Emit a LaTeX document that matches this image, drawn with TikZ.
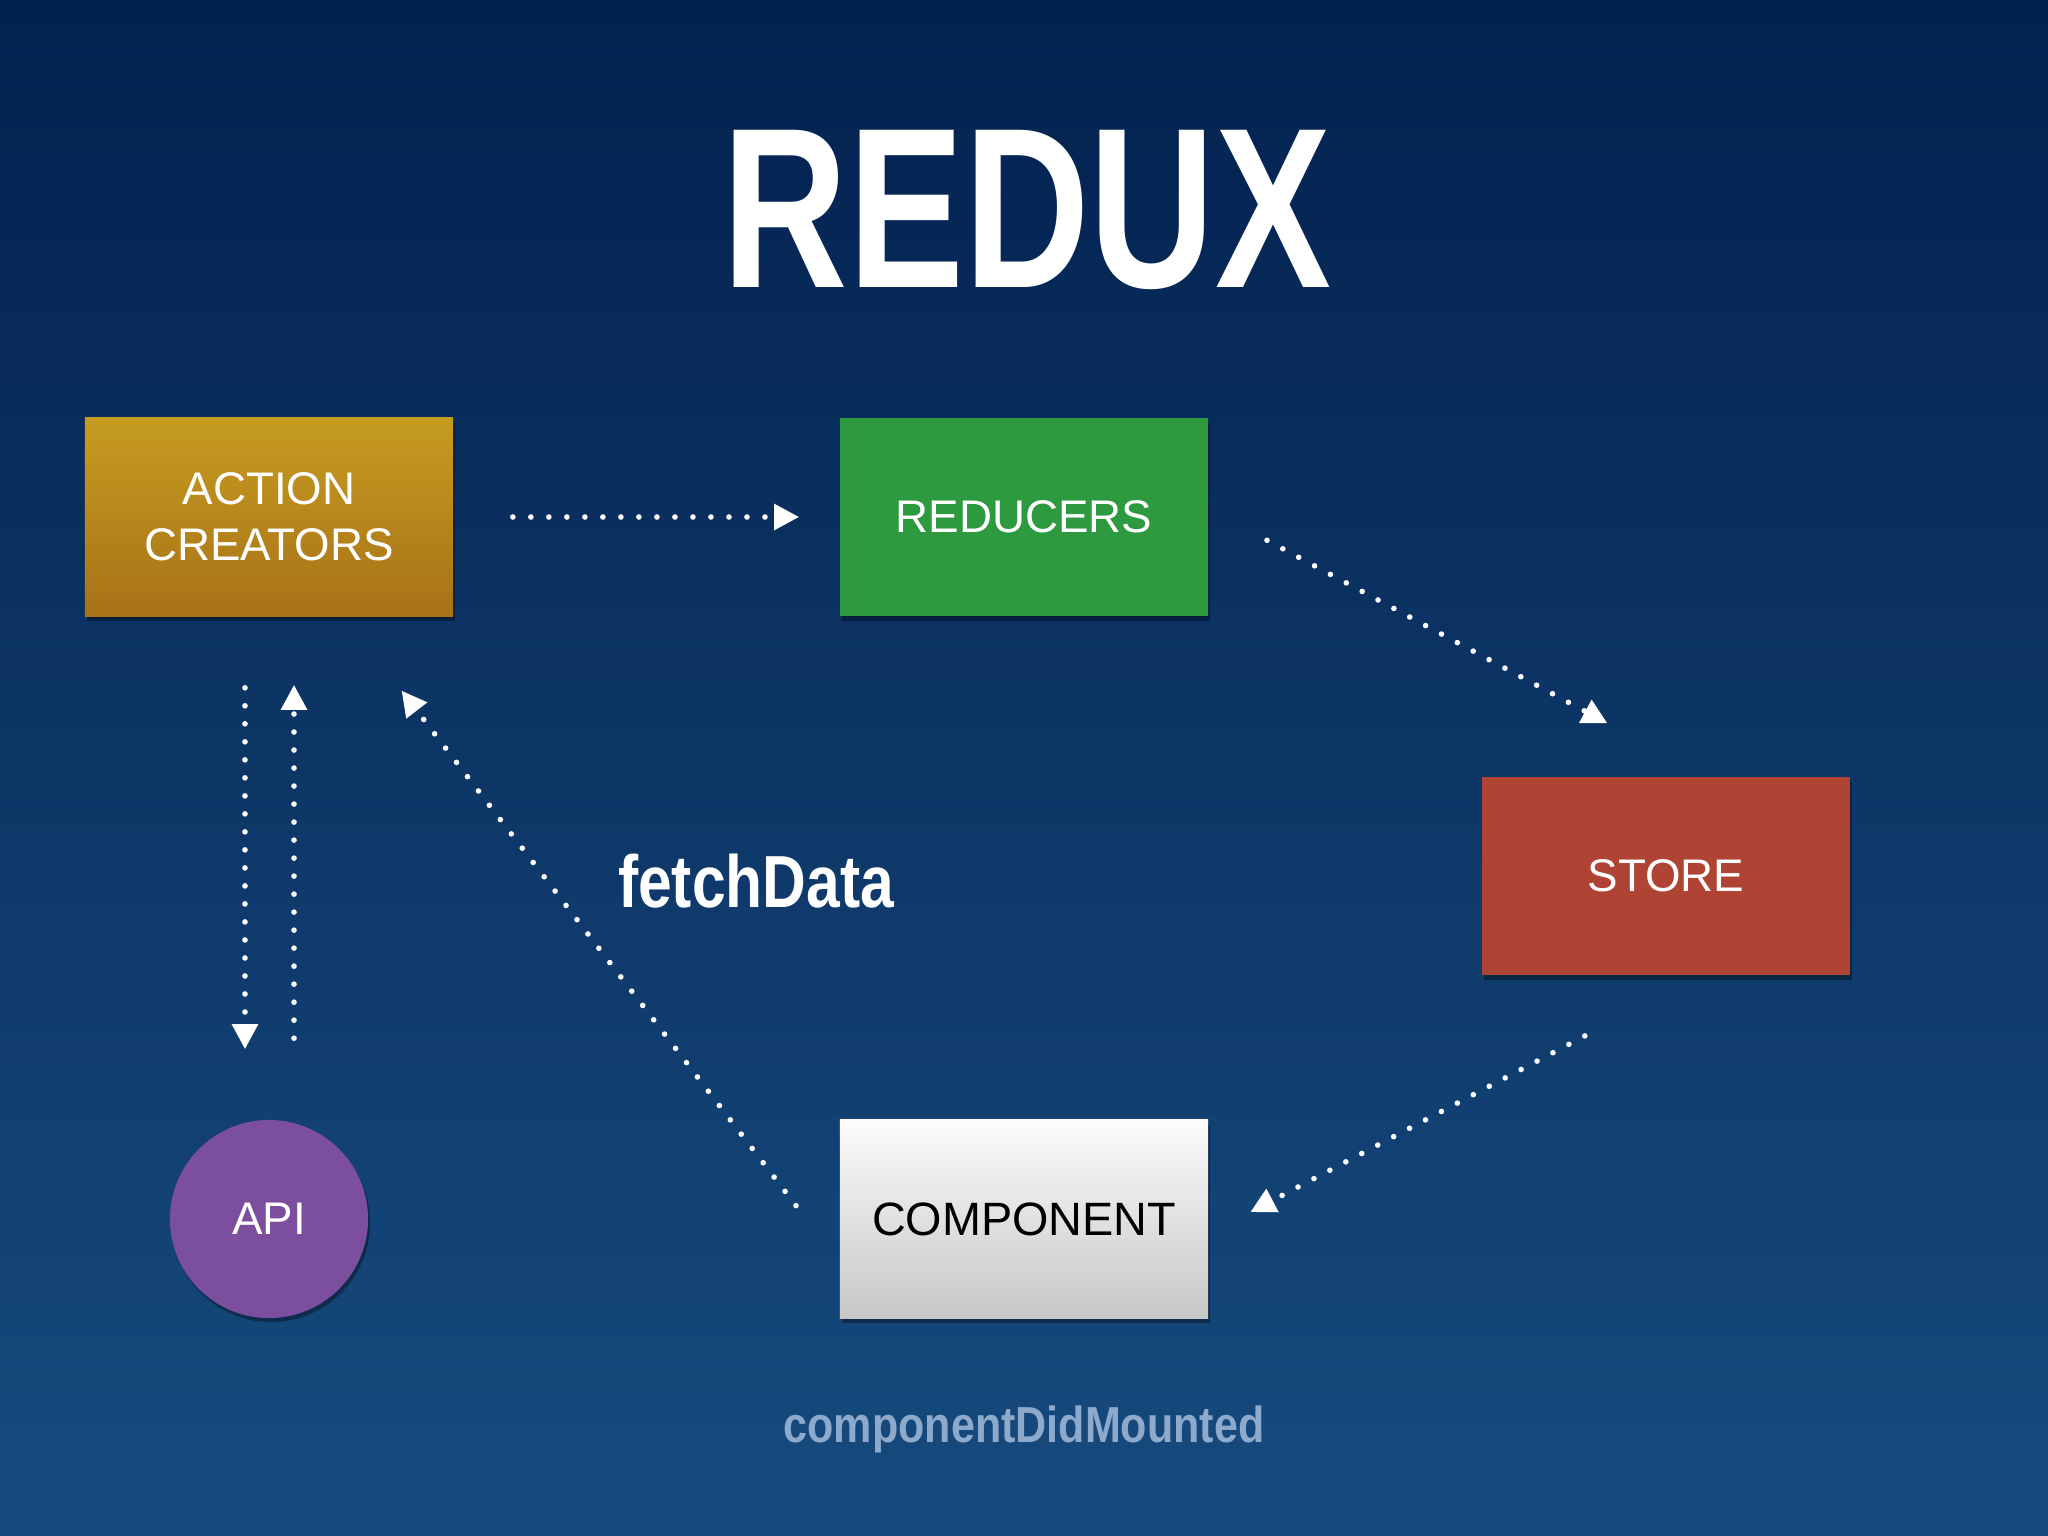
\documentclass[tikz,border=0pt]{standalone}
\usepackage{fontspec}
\setmainfont{Liberation Sans}
\usetikzlibrary{arrows.meta,shadows}

\definecolor{bgtop}{RGB}{3,33,79}
\definecolor{bgbot}{RGB}{23,75,126}
\definecolor{goldtop}{RGB}{198,156,32}
\definecolor{goldbot}{RGB}{168,114,24}
\definecolor{redgreen}{RGB}{46,154,64}
\definecolor{storered}{RGB}{176,68,52}
\definecolor{apipurple}{RGB}{123,78,158}
\definecolor{subblue}{RGB}{141,169,203}

\tikzset{
    box/.style={minimum width=3.68cm, minimum height=1.98cm, inner sep=0pt,
        align=center, text=white, font=\fontsize{13}{16}\selectfont,
        drop shadow={shadow xshift=0.02cm, shadow yshift=-0.05cm, fill=black, opacity=0.35}},
    flow/.style={white, line width=0.056cm, line cap=round,
        dash pattern=on 0pt off 0.18cm,
        -{Triangle[length=0.25cm, width=0.25cm]}}
}

\begin{document}
\begin{tikzpicture}[x=0.01cm, y=-0.01cm]
        \shade[top color=bgtop, bottom color=bgbot] (0,0) rectangle (2048,1536);
        \useasboundingbox (0,0) rectangle (2048,1536);

        % title
        \node[anchor=base, text=white, font=\fontsize{65}{65}\selectfont\bfseries, inner sep=0pt]
            (title) at (1027,287) {\scalebox{0.76}[1]{REDUX}};

        \node[box, top color=goldtop, bottom color=goldbot] (ac) at (269,517) {ACTION\\CREATORS};
        \node[box, fill=redgreen] (red) at (1024,517) {REDUCERS};
        \node[box, fill=storered] (store) at (1666,876) {STORE};
        \node[box, top color=white!97!gray, bottom color=black!22, text=black,
            font=\fontsize{13.3}{16}\selectfont] (comp) at (1024,1219) {COMPONENT};
        \node[circle, minimum size=1.98cm, inner sep=0pt, fill=apipurple, text=white,
            font=\fontsize{13}{16}\selectfont,
            drop shadow={shadow xshift=0.02cm, shadow yshift=-0.04cm, fill=black, opacity=0.35}]
            (api) at (269,1219) {API};

        \node[anchor=base, text=white, font=\fontsize{21}{21}\selectfont\bfseries, inner sep=0pt]
            (fetch) at (756,907) {\scalebox{0.82}[1]{fetchData}};
        \node[anchor=base, text=subblue, font=\fontsize{14.4}{15}\selectfont\bfseries, inner sep=0pt]
            (mount) at (1024,1442) {\scalebox{0.85}[1]{componentDidMounted}};

        % arrows
        \draw[flow, shorten <=0.59cm, shorten >=0.4cm] (ac.east) -- (red.west);
        \draw[flow, shorten <=0.66cm, shorten >=1.12cm] ([yshift=0.08cm]red.east) -- ([xshift=0.4cm]store.north);
        \draw[flow, shorten <=1.29cm, shorten >=0.47cm] ([xshift=0.33cm]store.south) -- ([yshift=-0.15cm]comp.east);
        \draw[flow, shorten <=0.71cm, shorten >=0.93cm] ([yshift=-0.43cm]comp.west) -- ([xshift=0.76cm]ac.south);
        \draw[flow, shorten <=0.71cm, shorten >=0.7cm] ([xshift=-0.24cm]ac.south) -- ([xshift=-0.24cm]api.north);
        \draw[flow, shorten <=0.81cm, shorten >=0.68cm] ([xshift=0.25cm]api.north) -- ([xshift=0.25cm]ac.south);
    \end{tikzpicture}
\end{document}
